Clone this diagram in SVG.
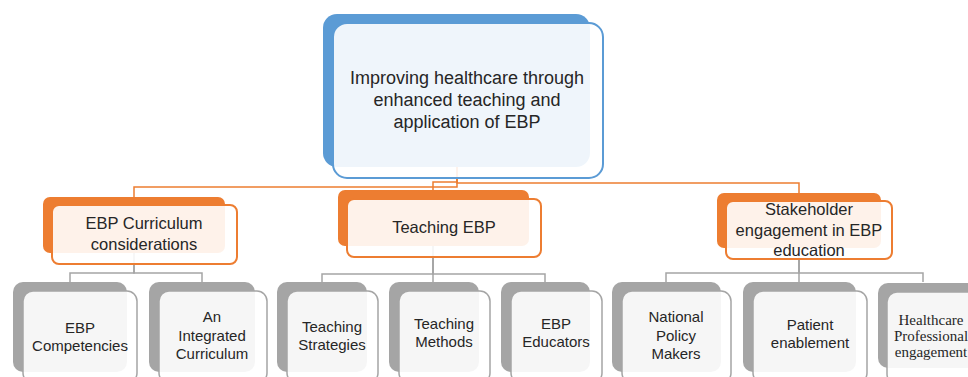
<svg xmlns="http://www.w3.org/2000/svg" width="968" height="377" viewBox="0 0 968 377">
<style>
text{font-family:"Liberation Sans",Arial,sans-serif;fill:#262626;text-anchor:middle}
.t0{font-size:18px}
.t1{font-size:16.5px}
.t2{font-size:15px}
.serif{font-family:"Liberation Serif","Times New Roman",serif;font-size:15px}
.bb{fill:#5B9BD5}
.bf{fill:#fff;fill-opacity:0.9;stroke:#5B9BD5;stroke-width:2}
.ob{fill:#ED7D31}
.of{fill:#fff;fill-opacity:0.9;stroke:#ED7D31;stroke-width:2}
.gb{fill:#A5A5A5}
.gf{fill:#fff;fill-opacity:0.9;stroke:#A5A5A5;stroke-width:1.5}
.co{fill:none;stroke:#ED7D31;stroke-width:1.5}
.cg{fill:none;stroke:#A5A5A5;stroke-width:1.5}
</style>
<g id="connectors">
<path class="co" d="M457,150 V187 H134 V197"/>
<path class="co" d="M457,150 V182 H433 V190"/>
<path class="co" d="M457,150 V183 H799 V193"/>
<path class="cg" d="M134,240 V273 H70 V282"/>
<path class="cg" d="M134,240 V273 H202 V282"/>
<path class="cg" d="M433,240 V274 H322 V282"/>
<path class="cg" d="M433,240 V282"/>
<path class="cg" d="M433,240 V274 H545 V282"/>
<path class="cg" d="M799,240 V273 H666 V282"/>
<path class="cg" d="M799,240 V282"/>
<path class="cg" d="M799,240 V273 H923 V282"/>
</g>
<g id="root">
<rect class="bb" x="323" y="14" width="267" height="153" rx="14"/>
<rect class="bf" x="333" y="23" width="270" height="155" rx="14"/>
<text class="t0" x="467" y="84">Improving healthcare through</text>
<text class="t0" x="467" y="106">enhanced teaching and</text>
<text class="t0" x="467" y="128">application of EBP</text>
</g>
<g id="curriculum">
<rect class="ob" x="43" y="197" width="182" height="56" rx="7"/>
<rect class="of" x="52" y="205" width="185" height="59" rx="7"/>
<text class="t1" x="144" y="229">EBP Curriculum</text>
<text class="t1" x="144" y="250">considerations</text>
</g>
<g id="teaching">
<rect class="ob" x="338" y="190" width="191" height="56" rx="7"/>
<rect class="of" x="347" y="199" width="194" height="58" rx="7"/>
<text class="t1" x="444" y="233">Teaching EBP</text>
</g>
<g id="stakeholder">
<rect class="ob" x="717" y="193" width="164" height="55" rx="7"/>
<rect class="of" x="726" y="201" width="166" height="58" rx="7"/>
<text class="t1" x="809" y="215">Stakeholder</text>
<text class="t1" x="809" y="236">engagement in EBP</text>
<text class="t1" x="809" y="256">education</text>
</g>
<g id="competencies">
<rect class="gb" x="13" y="282" width="114" height="90" rx="10"/>
<rect class="gf" x="23" y="291" width="114" height="92" rx="10"/>
<text class="t2" x="80" y="333">EBP</text>
<text class="t2" x="80" y="351">Competencies</text>
</g>
<g id="integrated">
<rect class="gb" x="149" y="282" width="106" height="90" rx="10"/>
<rect class="gf" x="159" y="291" width="108" height="92" rx="10"/>
<text class="t2" x="212" y="322">An</text>
<text class="t2" x="212" y="341">Integrated</text>
<text class="t2" x="212" y="359">Curriculum</text>
</g>
<g id="strategies">
<rect class="gb" x="277" y="282" width="90" height="90" rx="10"/>
<rect class="gf" x="287" y="291" width="91" height="92" rx="10"/>
<text class="t2" x="332" y="332">Teaching</text>
<text class="t2" x="332" y="350">Strategies</text>
</g>
<g id="methods">
<rect class="gb" x="389" y="282" width="90" height="90" rx="10"/>
<rect class="gf" x="399" y="291" width="91" height="92" rx="10"/>
<text class="t2" x="444" y="329">Teaching</text>
<text class="t2" x="444" y="347">Methods</text>
</g>
<g id="educators">
<rect class="gb" x="501" y="282" width="89" height="90" rx="10"/>
<rect class="gf" x="511" y="291" width="91" height="92" rx="10"/>
<text class="t2" x="556" y="329">EBP</text>
<text class="t2" x="556" y="347">Educators</text>
</g>
<g id="policy">
<rect class="gb" x="612" y="282" width="109" height="90" rx="10"/>
<rect class="gf" x="622" y="291" width="109" height="92" rx="10"/>
<text class="t2" x="676" y="322">National</text>
<text class="t2" x="676" y="341">Policy</text>
<text class="t2" x="676" y="359">Makers</text>
</g>
<g id="patient">
<rect class="gb" x="743" y="282" width="113" height="90" rx="10"/>
<rect class="gf" x="753" y="291" width="114" height="92" rx="10"/>
<text class="t2" x="810" y="330">Patient</text>
<text class="t2" x="810" y="348">enablement</text>
</g>
<g id="healthcare">
<rect class="gb" x="878" y="283" width="100" height="85" rx="10"/>
<rect class="gf" x="887" y="292" width="100" height="92" rx="10"/>
<text class="serif" x="931" y="325">Healthcare</text>
<text class="serif" x="931" y="341">Professional</text>
<text class="serif" x="931" y="357">engagement</text>
</g>
</svg>
